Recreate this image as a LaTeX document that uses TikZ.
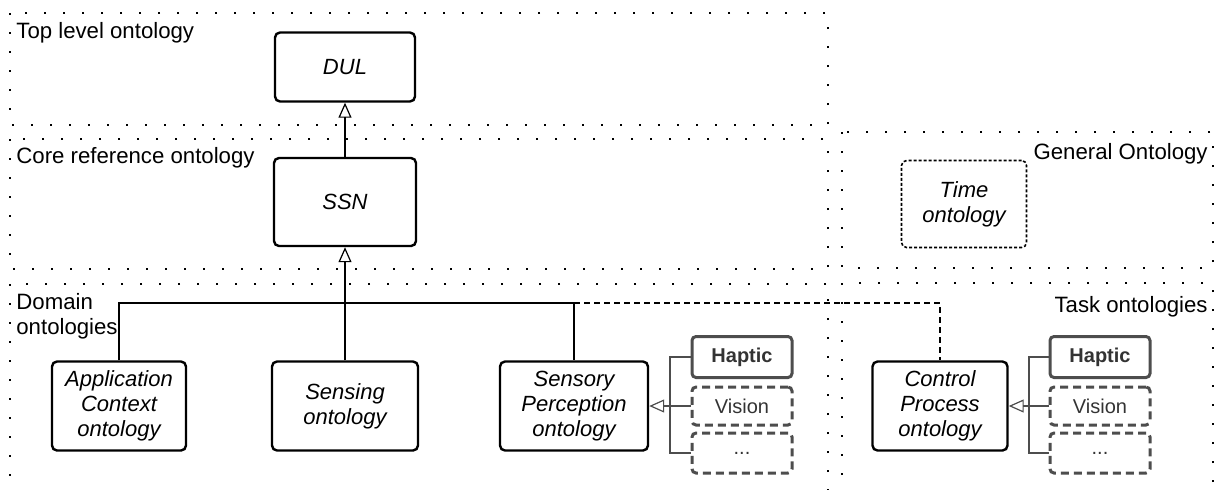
\documentclass[tikz,border=0pt]{standalone}
\usepackage{fontspec}
\setmainfont{Liberation Sans}
\usetikzlibrary{arrows.meta}
\definecolor{modgray}{HTML}{4D4D4D}
\definecolor{modtext}{HTML}{333333}

\begin{document}
\begin{tikzpicture}[x=0.5pt, y=-0.5pt,
	region/.style={line width=1pt, dash pattern=on 1pt off 8.5pt},
	title/.style={font=\fontsize{11.1}{12.5}\selectfont, inner sep=0pt, align=left},
	onto/.style={draw, line width=1.2pt, rounded corners=2.5pt, align=center, inner sep=0pt,
		font=\fontsize{11}{12.5}\selectfont\itshape},
	modal/.style={draw=modgray, line width=1.5pt, rounded corners=2pt, inner sep=0pt,
		minimum width=50pt, font=\fontsize{10}{12}\selectfont, text=modtext},
	opt/.style={modal, dash pattern=on 4pt off 2.5pt},
	link/.style={line width=1.1pt},
	glink/.style={draw=modgray, line width=1pt},
	isa/.style={-{Triangle[open, length=7.5pt, width=6.5pt, line width=0.6pt]}},
	]
	\clip (0, 0) rectangle (1220, 489);
	% ontology layers
	\draw [region] (10, 13) rectangle (828, 125);
	\draw [region] (10, 139) rectangle (828, 269);
	\draw [region] (842, 132) rectangle (1213, 268);
	\draw [region] (10, 284) rectangle (828, 520);
	\draw [region] (842, 283) rectangle (1213, 520);
	\node [title, anchor=base west] (ltop) at (16, 38) {Top level ontology};
	\node [title, anchor=base west] (lcore) at (16, 163) {Core reference ontology};
	\node [title, anchor=base east] (lgen) at (1208, 159) {General Ontology};
	\node [title, anchor=north west] (ldom) at (16, 293) {Domain\\ontologies};
	\node [title, anchor=base east] (ltask) at (1208, 312) {Task ontologies};

	\node [onto, minimum width=70pt, minimum height=34.5pt] (dul) at (345, 67) {DUL};
	\node [onto, minimum width=71pt, minimum height=44pt] (ssn) at (345, 202) {SSN};
	\node [onto, minimum width=67pt, minimum height=44.5pt] (appctx) at (119, 406) {Application\\Context\\ontology};
	\node [onto, minimum width=73pt, minimum height=44.5pt] (sensing) at (345, 406) {Sensing\\ontology};
	\node [onto, minimum width=74pt, minimum height=44.5pt] (sensperc) at (574, 406) {Sensory\\Perception\\ontology};
	\node [onto, minimum width=67.5pt, minimum height=44.5pt] (ctrlproc) at (940, 406) {Control\\Process\\ontology};
	\node [onto, line width=0.8pt, dash pattern=on 1.5pt off 1pt, minimum width=62.5pt,
		minimum height=43.5pt] (time) at (964, 204) {Time\\ontology};

	% modalities
	\node [modal, minimum height=20.5pt, font=\fontsize{10}{12}\selectfont\bfseries] (haptic1) at (742, 357) {Haptic};
	\node [opt, minimum height=19pt] (vision1) at (742, 406) {Vision};
	\node [opt, minimum height=20pt] (more1) at (742, 453) {...};
	\node [modal, minimum height=20.5pt, font=\fontsize{10}{12}\selectfont\bfseries] (haptic2) at (1100, 357) {Haptic};
	\node [opt, minimum height=19pt] (vision2) at (1100, 406) {Vision};
	\node [opt, minimum height=20pt] (more2) at (1100, 453) {...};

	% hierarchy
	\coordinate (split) at (345, 303);
	\draw [link, isa] (ssn) -- (dul);
	\draw [link, isa] (split) -- (ssn);
	\draw [link] (appctx.north) |- (split) -| (sensperc.north);
	\draw [link] (sensing) -- (split);
	\draw [link, dash pattern=on 3pt off 2pt] (sensperc.north |- split) -| (ctrlproc.north);

	\draw [glink] (haptic1.west) -- ++(-21, 0) |- (more1.west);
	\draw [glink, isa] (vision1) -- (sensperc);
	\draw [glink] (haptic2.west) -- ++(-20, 0) |- (more2.west);
	\draw [glink, isa] (vision2) -- (ctrlproc);
\end{tikzpicture}
\end{document}
